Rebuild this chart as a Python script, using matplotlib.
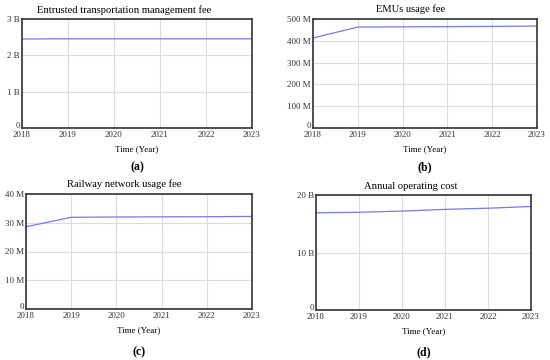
import matplotlib
matplotlib.use("Agg")
import matplotlib.pyplot as plt
import matplotlib.transforms as mtransforms
from matplotlib.ticker import FuncFormatter

plt.rcParams['font.family'] = ['Liberation Serif', 'DejaVu Serif']

# DATA
years = [2018, 2019, 2020, 2021, 2022, 2023]
entrusted_fee = [2.45, 2.455, 2.455, 2.455, 2.455, 2.455]    # billions
emus_fee = [413, 463, 464, 465, 466, 468]                    # millions
railway_fee = [28.6, 31.9, 32.0, 32.05, 32.1, 32.2]          # millions
operating_cost = [16.9, 17.0, 17.2, 17.5, 17.7, 18.0]        # billions

titles = ["Entrusted transportation management fee", "EMUs usage fee",
          "Railway network usage fee", "Annual operating cost"]
panel_tags = ["(a)", "(b)", "(c)", "(d)"]
y_ticks = [[0, 1, 2, 3], [0, 100, 200, 300, 400, 500], [0, 10, 20, 30, 40], [0, 10, 20]]
y_units = ["B", "M", "M", "B"]
series = [entrusted_fee, emus_fee, railway_fee, operating_cost]

W, H = 550, 360
# axes boxes in pixels: left, top, right, bottom
boxes = [(22, 19, 252, 128), (313, 19, 537, 128), (26, 194, 252, 309), (316, 195, 531, 310)]
title_x = [124, 411, 124, 411]
title_y = [10, 9, 184, 186]

fig = plt.figure(figsize=(W / 100, H / 100), dpi=100)
line_color = '#7878f0'

for i in range(4):
    l, t, r, b = boxes[i]
    ax = fig.add_axes([l / W, 1 - b / H, (r - l) / W, (b - t) / H])
    ax.plot(years, series[i], color=line_color, lw=0.9)
    ax.set_xlim(2018, 2023)
    ax.set_ylim(0, y_ticks[i][-1])
    ax.set_xticks(years)
    ax.set_yticks(y_ticks[i])
    unit = y_units[i]
    ax.yaxis.set_major_formatter(FuncFormatter(lambda v, p, u=unit: "0" if v == 0 else f"{v:g} {u}"))
    ax.grid(True, color='#dcdcdc', lw=0.8)
    ax.tick_params(labelsize=6.5, length=0, pad=1.5, colors='#333333')
    ax.tick_params(axis='x', pad=2.5)
    for s in ax.spines.values():
        s.set_color('#333333')
        s.set_linewidth(1.2)
    # lift the "0" label a little so it clears the first year label
    zero_lbl = ax.get_yticklabels()[0]
    zero_lbl.set_transform(zero_lbl.get_transform() + mtransforms.ScaledTranslation(0, 3 / 100, fig.dpi_scale_trans))
    fig.text(title_x[i] / W, 1 - title_y[i] / H, titles[i], ha='center', va='center', fontsize=7.6)
    ax.set_xlabel("Time (Year)", fontsize=6.5, labelpad=4)
    cx = (l + r) / 2
    ty = 167 if i < 2 else 352
    fig.text(cx / W, 1 - ty / H, panel_tags[i], ha='center', va='center', fontsize=8.5, fontweight='bold')

fig.savefig("out.png", dpi=100, facecolor='white')
